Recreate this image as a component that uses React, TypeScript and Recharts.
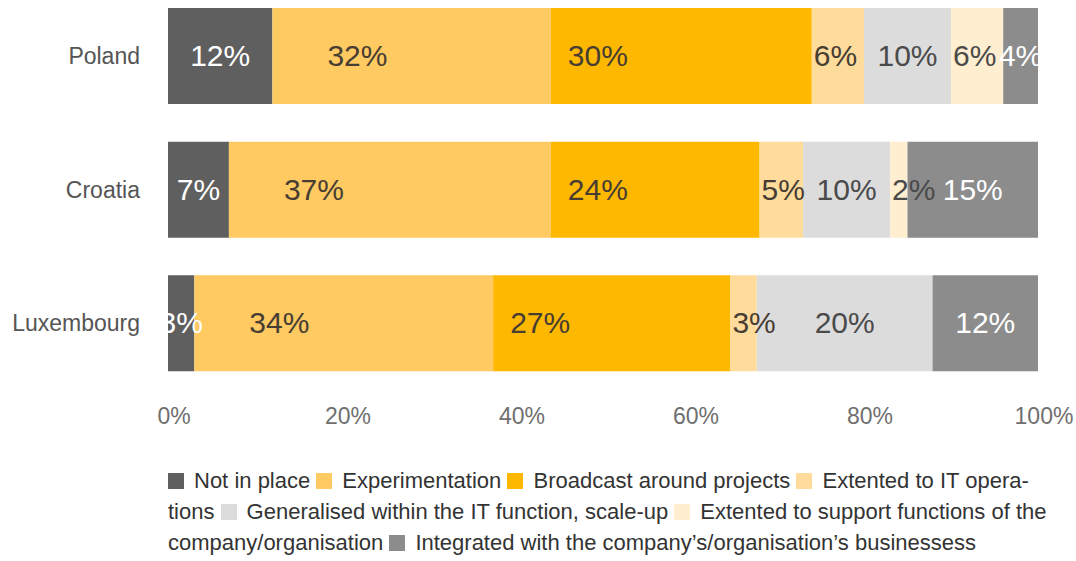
import React from 'react';
import { BarChart, Bar, XAxis, YAxis, Legend, LabelList } from 'recharts';

const categories = ['Poland', 'Croatia', 'Luxembourg'];
const notInPlace = [12, 7, 3];
const experimentation = [32, 37, 34];
const broadcast = [30, 24, 27];
const extendedIT = [6, 5, 3];
const generalised = [10, 10, 20];
const extendedSupport = [6, 2, 0];
const integrated = [4, 15, 12];
const xTicks = [0, 0.2, 0.4, 0.6, 0.8, 1];
const xTickLabels = ['0%', '20%', '40%', '60%', '80%', '100%'];

const FONT = '"Liberation Sans", Arial, Helvetica, sans-serif';

type Mode = 'center' | 'edge' | 'start17' | 'start55';

const series: { key: string; name: string; color: string; values: number[]; labelColor: string; mode: Mode }[] = [
  { key: 'notInPlace', name: 'Not in place', color: '#5f5f5f', values: notInPlace, labelColor: '#ffffff', mode: 'center' },
  { key: 'experimentation', name: 'Experimentation', color: '#ffca61', values: experimentation, labelColor: '#473d33', mode: 'start55' },
  { key: 'broadcast', name: 'Broadcast around projects', color: '#ffb800', values: broadcast, labelColor: '#473d33', mode: 'start17' },
  { key: 'extendedIT', name: 'Extented to IT opera\u00ADtions', color: '#ffdc9c', values: extendedIT, labelColor: '#473d33', mode: 'edge' },
  { key: 'generalised', name: 'Generalised within the IT function, scale-up', color: '#dcdcdc', values: generalised, labelColor: '#4a4a4a', mode: 'center' },
  { key: 'extendedSupport', name: 'Extented to support functions of the company/organisation', color: '#ffefd0', values: extendedSupport, labelColor: '#4a4a4a', mode: 'edge' },
  { key: 'integrated', name: 'Integrated with the company\u2019s/organisation\u2019s businessess', color: '#8c8c8c', values: integrated, labelColor: '#ffffff', mode: 'center' },
];

const data = categories.map((c, i) => {
  const row: Record<string, string | number> = { category: c };
  series.forEach((s) => {
    row[s.key] = s.values[i];
  });
  return row;
});

const makeLabel = (s: (typeof series)[number]) => (props: any) => {
  const x = Number(props.x);
  const y = Number(props.y);
  const width = Number(props.width);
  const height = Number(props.height);
  const v = s.values[props.index];
  if (!v) return null;
  let tx = x + width / 2;
  let anchor: 'start' | 'middle' = 'middle';
  if (s.mode === 'edge') {
    tx = x + 2;
    anchor = 'start';
  } else if (s.mode === 'start17') {
    tx = x + 17;
    anchor = 'start';
  } else if (s.mode === 'start55') {
    tx = x + 55;
    anchor = 'start';
  }
  return (
    <text
      x={tx}
      y={y + height / 2 + 10}
      textAnchor={anchor}
      fill={s.labelColor}
      fontSize={30}
      fontFamily={FONT}
    >
      {`${v}%`}
    </text>
  );
};

const renderName = (name: string) => {
  const words = name.split(' ');
  const out: React.ReactNode[] = [];
  words.forEach((w, wi) => {
    const parts = w.split('\u00AD');
    parts.forEach((p, pi) => {
      out.push(<span key={`${wi}-${pi}`}>{pi < parts.length - 1 ? p + '\u00AD' : p}</span>);
    });
    if (wi < words.length - 1) out.push(' ');
  });
  return out;
};

const LegendContent = () => (
  <div
    style={{
      fontFamily: FONT,
      fontSize: 22,
      lineHeight: '31px',
      color: '#333333',
      textAlign: 'left',
      width: 890,
    }}
  >
    {series.map((s, i) => (
      <React.Fragment key={s.key}>
        <span
          style={{
            display: 'inline-block',
            width: 16,
            height: 16,
            background: s.color,
            marginRight: 10,
            verticalAlign: '-1px',
          }}
        />
        {renderName(s.name)}
        {i < series.length - 1 ? ' ' : ''}
      </React.Fragment>
    ))}
  </div>
);

export default function App() {
  return (
    <div style={{ position: 'relative', width: 1076, height: 561, overflow: 'hidden' }}>
      <style>{'body{margin:0}'}</style>
      <div style={{ position: 'absolute', left: 8, top: -12, width: 1068, height: 573 }}>
        <BarChart
          width={1068}
          height={573}
          data={data}
          layout="vertical"
          stackOffset="expand"
          barSize={96}
          margin={{ top: 1, right: 38, bottom: 131, left: 0 }}
          style={{ overflow: 'visible' }}
        >
          <XAxis
            type="number"
            domain={[0, 1]}
            ticks={xTicks}
            tickFormatter={(v: number) => xTickLabels[xTicks.indexOf(v)] ?? ''}
            axisLine={false}
            tickLine={false}
            tickSize={0}
            tickMargin={18}
            height={40}
            interval={0}
            tick={{ fill: '#6f6f6f', fontSize: 23, fontFamily: FONT, dx: 6 }}
          />
          <YAxis
            type="category"
            dataKey="category"
            width={160}
            axisLine={false}
            tickLine={false}
            tickSize={0}
            tickMargin={28}
            tick={{ fill: '#555555', fontSize: 23, fontFamily: FONT }}
          />
          <Legend
            layout="horizontal"
            verticalAlign="middle"
            align="center"
            content={LegendContent}
            wrapperStyle={{ top: 477, left: 160, width: 890 }}
          />
          {series.map((s) => (
            <Bar key={s.key} dataKey={s.key} name={s.name} stackId="a" fill={s.color} isAnimationActive={false}>
              <LabelList dataKey={s.key} content={makeLabel(s)} />
            </Bar>
          ))}
        </BarChart>
      </div>
    </div>
  );
}
